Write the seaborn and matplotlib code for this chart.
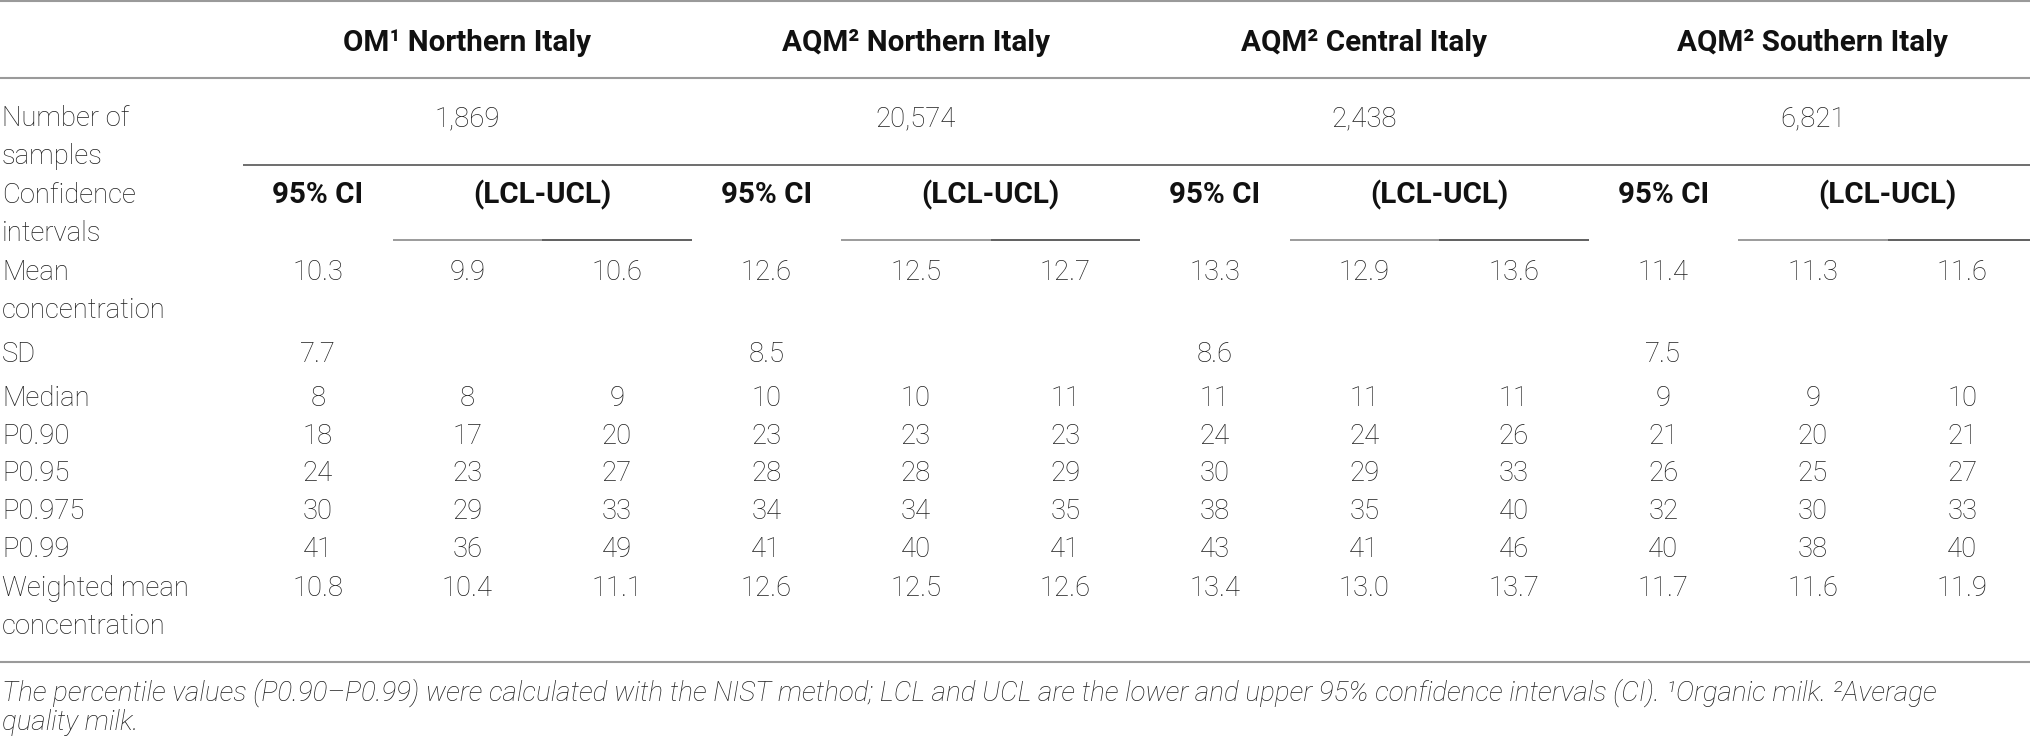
import seaborn as sns
import matplotlib.pyplot as plt

# table content
groups = ["OM¹ Northern Italy", "AQM² Northern Italy", "AQM² Central Italy", "AQM² Southern Italy"]
n_samples = ["1,869", "20,574", "2,438", "6,821"]
row_labels = ["Mean\nconcentration", "SD", "Median", "P0.90", "P0.95", "P0.975", "P0.99",
              "Weighted mean\nconcentration"]

mean_conc = [10.3, 9.9, 10.6, 12.6, 12.5, 12.7, 13.3, 12.9, 13.6, 11.4, 11.3, 11.6]
sd = [7.7, None, None, 8.5, None, None, 8.6, None, None, 7.5, None, None]
median = [8, 8, 9, 10, 10, 11, 11, 11, 11, 9, 9, 10]
p090 = [18, 17, 20, 23, 23, 23, 24, 24, 26, 21, 20, 21]
p095 = [24, 23, 27, 28, 28, 29, 30, 29, 33, 26, 25, 27]
p0975 = [30, 29, 33, 34, 34, 35, 38, 35, 40, 32, 30, 33]
p099 = [41, 36, 49, 41, 40, 41, 43, 41, 46, 40, 38, 40]
w_mean = [10.8, 10.4, 11.1, 12.6, 12.5, 12.6, 13.4, 13.0, 13.7, 11.7, 11.6, 11.9]

footnote = ["The percentile values (P0.90–P0.99) were calculated with the NIST method; LCL and UCL are the "
            "lower and upper 95% confidence intervals (CI). ¹Organic milk. ²Average",
            "quality milk."]

rows = [(mean_conc, "{:.1f}"), (sd, "{:.1f}"), (median, "{}"), (p090, "{}"), (p095, "{}"),
        (p0975, "{}"), (p099, "{}"), (w_mean, "{:.1f}")]

sns.set_theme(style="white")
plt.rcParams['font.family'] = ['Roboto', 'DejaVu Sans']

W, H = 2031, 743
fig = plt.figure(figsize=(W / 100, H / 100), dpi=100)
ax = fig.add_axes([0, 0, 1, 1])
ax.set_xlim(0, W)
ax.set_ylim(H, 0)
ax.axis("off")

ink = "#1e1e1e"
fs = 19.8      # body
fb = 21.3      # bold headers
x0, cw = 243, 149.5          # first data column start, column width
def cx(k):
    return x0 + cw * (k + 0.5)

# baselines
row_y = [280, 362, 406, 444, 481, 519, 557, 596]
lh = 38

def body(x, y, s, ha="center"):
    ax.text(x, y, s, ha=ha, va="baseline", fontsize=fs, fontweight="light", color=ink)

def bold(x, y, s):
    ax.text(x, y, s, ha="center", va="baseline", fontsize=fb, fontweight="bold", color="#111111")

# rules
ax.plot([0, W], [1, 1], color="#9a9a9a", lw=1.5, solid_capstyle="butt")
ax.plot([0, W], [78, 78], color="#9a9a9a", lw=1.5, solid_capstyle="butt")
ax.plot([x0, W], [165, 165], color="#555555", lw=1.2, solid_capstyle="butt")
for g in range(4):
    a = x0 + cw * (3 * g + 1)
    ax.plot([a, a + cw], [240, 240], color="#8a8a8a", lw=1.2, solid_capstyle="butt")
    ax.plot([a + cw, min(a + 2 * cw, W)], [240, 240], color="#444444", lw=1.2, solid_capstyle="butt")
ax.plot([0, W], [662, 662], color="#9a9a9a", lw=1.5, solid_capstyle="butt")

# header
for g, name in enumerate(groups):
    bold(cx(3 * g + 1), 51, name)
    body(cx(3 * g + 1), 126, n_samples[g])
    bold(cx(3 * g), 203, "95% CI")
    bold(x0 + cw * (3 * g + 2), 203, "(LCL-UCL)")

body(2, 126, "Number of", ha="left")
body(2, 126 + lh, "samples", ha="left")
body(2, 203, "Confidence", ha="left")
body(2, 203 + lh, "intervals", ha="left")

# body
for (vals, fmt), label, y in zip(rows, row_labels, row_y):
    for i, line in enumerate(label.split("\n")):
        body(2, y + i * lh, line, ha="left")
    for k, v in enumerate(vals):
        if v is not None:
            body(cx(k), y, fmt.format(v))

for i, line in enumerate(footnote):
    ax.text(2, 701 + i * 29, line, ha="left", va="baseline", fontsize=20, style="italic",
            fontweight="light", color=ink)

fig.savefig("out.png", dpi=100)
